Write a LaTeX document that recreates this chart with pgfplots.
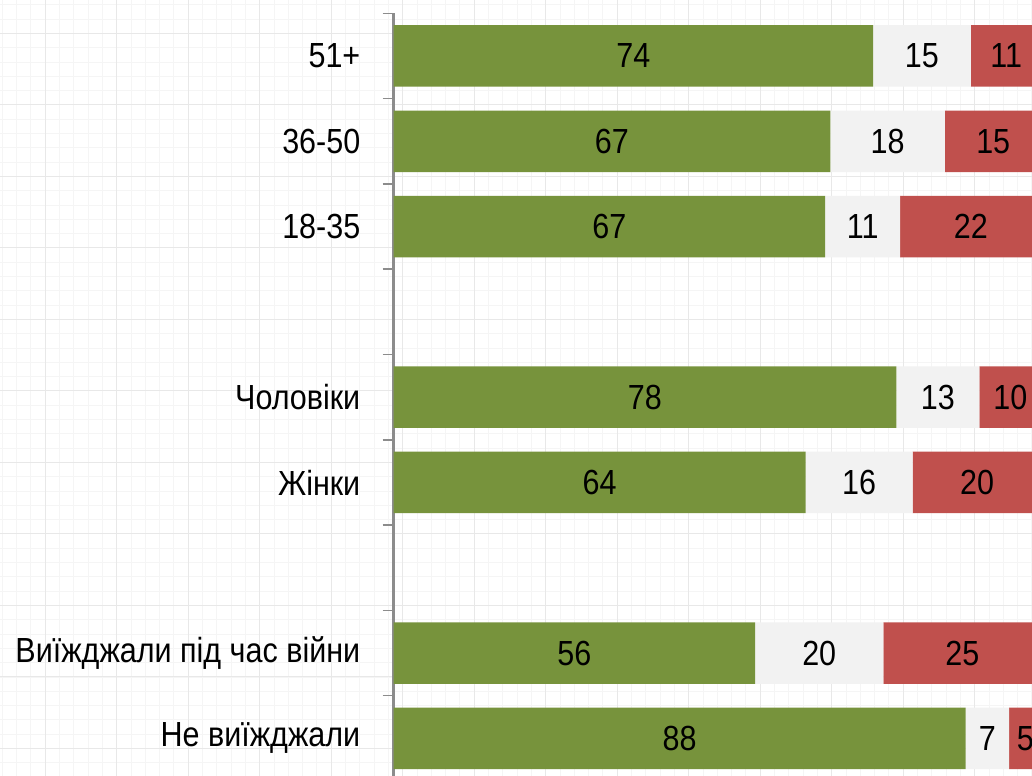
\documentclass[border=0pt]{standalone}
\usepackage{fontspec}
\setmainfont{Liberation Sans}[FakeStretch=0.875]
\usepackage{pgfplots}
\usepackage{pgfplotstable}
\pgfplotsset{compat=1.18}
\definecolor{cgreen}{HTML}{77933C}
\definecolor{cgray}{HTML}{F2F2F2}
\definecolor{cred}{HTML}{C0504D}
\definecolor{caxis}{HTML}{8C8C8C}

\pgfplotstableread{
y g w r gl wl rl
0 74.0 15.1 10.9 74 15 11
1 67.4 17.7 14.9 67 18 15
2 66.6 11.6 21.8 67 11 22
4 77.6 12.8 9.6 78 13 10
5 63.6 16.5 19.9 64 16 20
7 55.8 19.8 24.4 56 20 25
8 88.3 6.7 5.0 88 7 5
}\datatab

\pgfplotsset{
  common/.style={
    at={(393.5bp,762.7bp)}, anchor=north west,
    scale only axis, width=648bp, height=767.7bp,
    xmin=0, xmax=100, ymin=-0.5, ymax=8.5, y dir=reverse,
  },
}

\begin{document}
\begin{tikzpicture}
\clip (0bp,0bp) rectangle (1032bp,776bp);
\fill[white] (0bp,0bp) rectangle (1032bp,776bp);
% faint graph-paper background
\foreach \i in {-3,...,72} {
  \draw[black!4, line width=0.6bp] ({(45+\i*14.3)*1bp},0bp) -- ++(0bp,776bp);
  \draw[black!4, line width=0.6bp] (0bp,{(776-33.3-\i*14.3)*1bp}) -- ++(1032bp,0bp);
}
\foreach \i in {0,...,14} {
  \draw[black!9, line width=0.8bp] ({(45+\i*71.5)*1bp},0bp) -- ++(0bp,776bp);
  \draw[black!9, line width=0.8bp] (0bp,{(776-33.3-\i*71.5)*1bp}) -- ++(1032bp,0bp);
}
\begin{axis}[common,
  xbar stacked, bar width=61.5bp,
  axis x line=none, axis y line*=left,
  axis line style={caxis, line width=2bp},
  ytick={0,...,8},
  yticklabels={51+,36-50,18-35,,Чоловіки,Жінки,,Виїжджали під час війни,Не виїжджали},
  major tick length=0pt,
  minor ytick={-0.5,0.5,...,8.5},
  minor tick length=11bp,
  tick align=outside,
  minor tick style={caxis, line width=1.5bp},
  yticklabel style={font=\fontsize{35}{40}\selectfont, anchor=east, inner sep=0pt, xshift=-33bp},
]
\addplot[fill=cgreen, draw=none] table[x=g, y=y]{\datatab};
\addplot[fill=cgray, draw=none] table[x=w, y=y]{\datatab};
\addplot[fill=cred, draw=none] table[x=r, y=y]{\datatab};
\end{axis}
\begin{axis}[common, hide axis,
  nodes near coords, point meta=explicit symbolic,
  nodes near coords style={anchor=center, font=\fontsize{35}{40}\selectfont, text=black, inner sep=0pt},
]
\addplot[draw=none, mark=none] table[x expr=\thisrow{g}/2, y=y, meta=gl]{\datatab};
\addplot[draw=none, mark=none] table[x expr=\thisrow{g}+\thisrow{w}/2, y=y, meta=wl]{\datatab};
\addplot[draw=none, mark=none] table[x expr=\thisrow{g}+\thisrow{w}+\thisrow{r}/2, y=y, meta=rl]{\datatab};
\end{axis}
\end{tikzpicture}
\end{document}
